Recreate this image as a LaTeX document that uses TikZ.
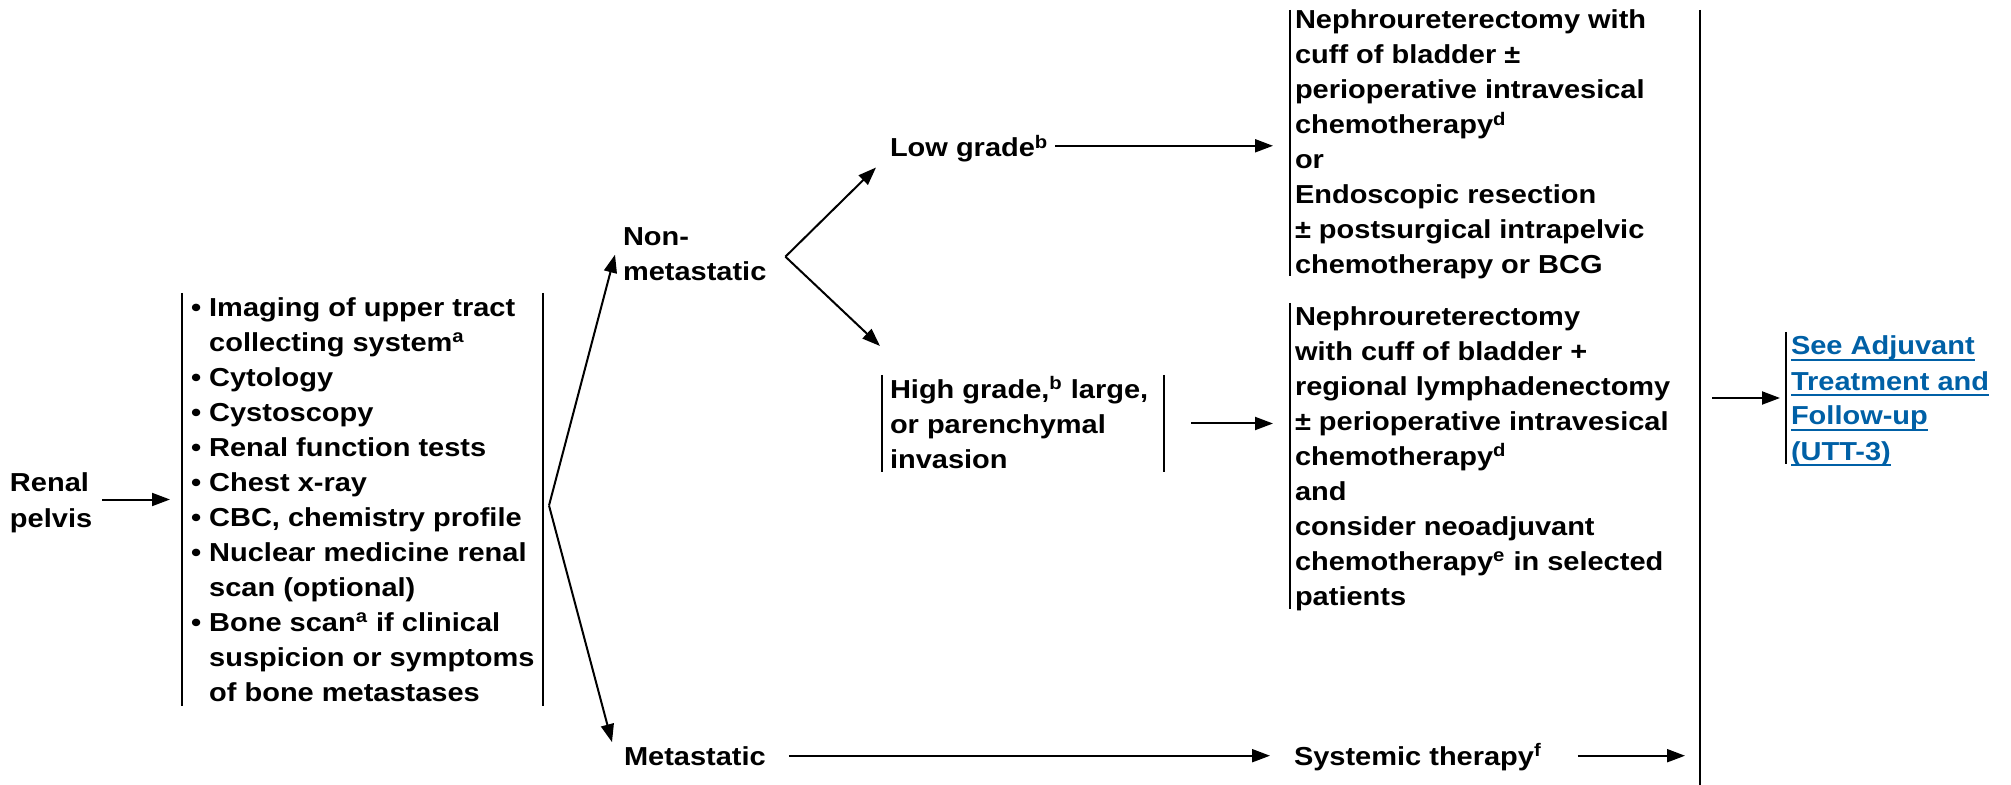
\documentclass[tikz,border=0pt]{standalone}
\usepackage{fontspec}
\setmainfont{Liberation Sans}[FakeStretch=1.115]
\newcommand{\myul}[1]{\setbox0\hbox{#1}\rlap{\rule[-2.8pt]{\wd0}{0.9pt}}\box0}
\usetikzlibrary{arrows.meta,calc,fit}
\definecolor{linkblue}{RGB}{0,96,166}
\begin{document}
\begin{tikzpicture}[x=0.5pt,y=-0.5pt,
  txt/.style={inner sep=0pt, outer sep=0pt, align=left,
    font=\bfseries\fontsize{13pt}{17.5pt}\selectfont},
  boxr/.style={inner sep=0pt, outer sep=0pt, draw=none},
  vbar/.style={line width=1.2pt},
  arr/.style={line width=1pt, -{Triangle[length=9pt,width=6.5pt]}}]
\useasboundingbox (0,0) rectangle (2011,785);

% ---- nodes (base anchor = baseline of the last line) ----
\node[txt, anchor=base west] (renal) at (10,527) {Renal\\pelvis};

\node[boxr, fit={(182,293)(543,706)}] (listbox) {};
\node[txt, anchor=base west] (list) at (191,701) {%
• Imaging of upper tract\\
\phantom{• }collecting system\textsuperscript{a}\\
• Cytology\\
• Cystoscopy\\
• Renal function tests\\
• Chest x-ray\\
• CBC, chemistry profile\\
• Nuclear medicine renal\\
\phantom{• }scan (optional)\\
• Bone scan\textsuperscript{a} if clinical\\
\phantom{• }suspicion or symptoms\\
\phantom{• }of bone metastases};

\node[txt, anchor=base west] (nonmet) at (623,281) {Non-\\metastatic};
\node[txt, anchor=base west] (met) at (624,765) {Metastatic};

\node[txt, anchor=base west] (low) at (890,157) {Low grade\textsuperscript{b}};

\node[boxr, fit={(882,375)(1164,472)}] (hibox) {};
\node[txt, anchor=base west] (high) at (890,468) {High grade,\textsuperscript{b} large,\\or parenchymal\\invasion};

\node[boxr, fit={(1290,10)(1660,276)}] (trtAbox) {};
\node[txt, anchor=base west] (trtA) at (1295,274) {%
Nephroureterectomy with\\
cuff of bladder ±\\
perioperative intravesical\\
chemotherapy\textsuperscript{d}\\
or\\
Endoscopic resection\\
± postsurgical intrapelvic\\
chemotherapy or BCG};

\node[boxr, fit={(1290,303)(1680,609)}] (trtBbox) {};
\node[txt, anchor=base west] (trtB) at (1295,605) {%
Nephroureterectomy\\
with cuff of bladder +\\
regional lymphadenectomy\\
± perioperative intravesical\\
chemotherapy\textsuperscript{d}\\
and\\
consider neoadjuvant\\
chemotherapy\textsuperscript{e} in selected\\
patients};

\node[txt, anchor=base west] (sys) at (1294,765) {Systemic therapy\textsuperscript{f}};

\node[boxr, fit={(1700,10)(1700,785)}] (bigbar) {};

\node[boxr, fit={(1786,332)(2000,464)}] (finbox) {};
\node[txt, anchor=base west, text=linkblue] (fin) at (1791,460) {%
\myul{See Adjuvant}\\
\myul{Treatment and}\\
\myul{Follow-up}\\
\myul{(UTT-3)}};

% ---- bars ----
\draw[vbar] (listbox.north west) -- (listbox.south west);
\draw[vbar] (listbox.north east) -- (listbox.south east);
\draw[vbar] (hibox.north west) -- (hibox.south west);
\draw[vbar] (hibox.north east) -- (hibox.south east);
\draw[vbar] (trtAbox.north west) -- (trtAbox.south west);
\draw[vbar] (trtBbox.north west) -- (trtBbox.south west);
\draw[vbar] (bigbar.north) -- (bigbar.south);
\draw[vbar] (finbox.north west) -- (finbox.south west);

% ---- connectors ----
\draw[arr] ($(renal.east |- listbox.west)+(10,0)$) -- ($(listbox.west)+(-12,0)$);

\coordinate (apex) at ($(listbox.east)+(6,6)$);
\draw[arr] (apex) -- ($(nonmet.west)+(-8,0)$);
\draw[arr] (apex) -- ($(met.north west)+(-12,-4)$);

\coordinate (br) at ($(nonmet.east)+(19,2)$);
\draw[arr] (br) -- ($(low.south west)+(-14,5)$);
\draw[arr] (br) -- ($(hibox.north west)+(-2,-29)$);

\draw[arr] ($(low.east)+(7,-3)$) -- ($(low.east -| trtAbox.west)+(-17,-3)$);
\draw[arr] ($(hibox.east)+(27,0)$) -- ($(hibox.east -| trtBbox.west)+(-17,0)$);

\draw[arr] ($(met.east)+(23,0)$) -- ($(met.east -| sys.west)+(-24,0)$);
\draw[arr] ($(sys.east |- met.east)+(36,0)$) -- ($(met.east -| bigbar.west)+(-14,0)$);

\draw[arr] ($(bigbar.center |- finbox.west)+(12,0)$) -- ($(finbox.west)+(-6,0)$);
\end{tikzpicture}
\end{document}
